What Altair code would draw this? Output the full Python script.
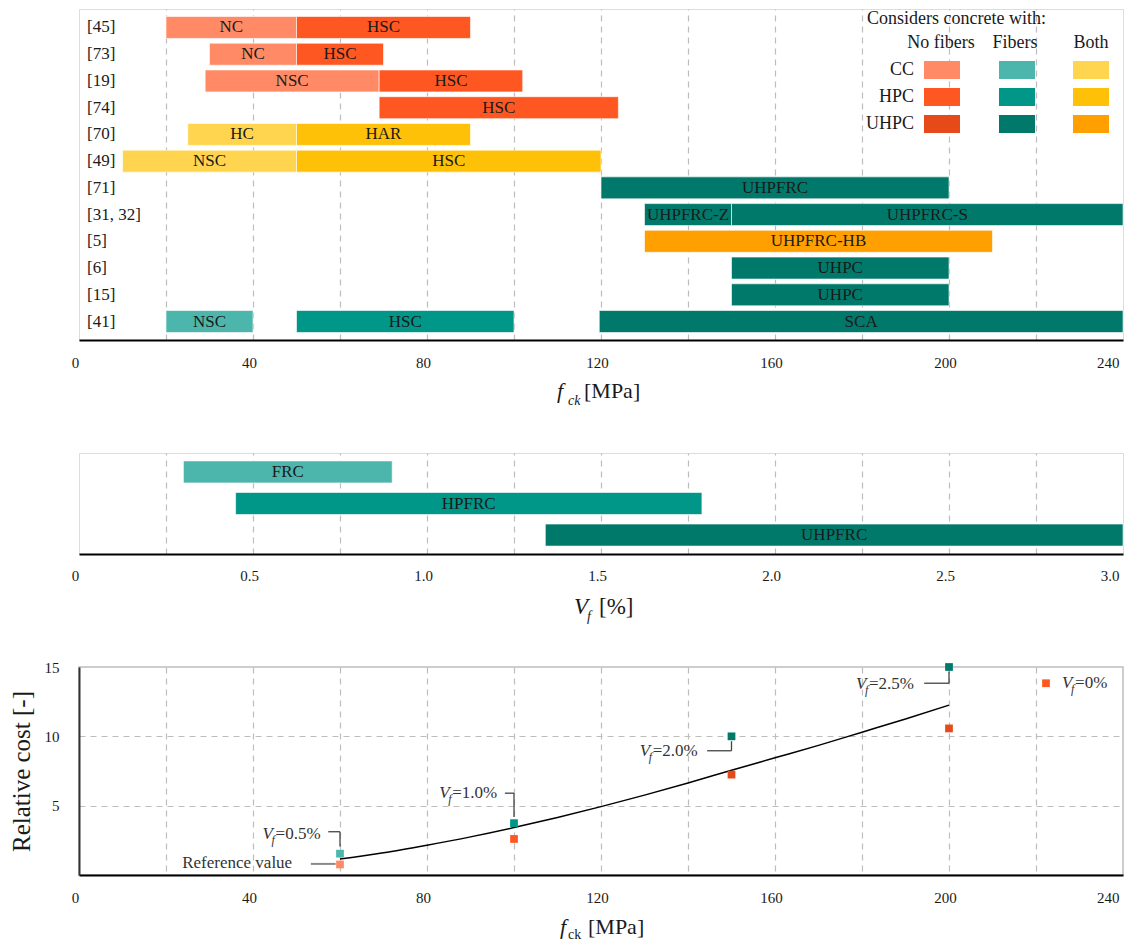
import altair as alt
import pandas as pd

FONT = "Liberation Serif"
TXT = "#1a1a1a"

# ---------------- colours (concrete class x fibre content) ----------------
classes = ["CC-none", "HPC-none", "UHPC-none", "CC-fib", "HPC-fib", "UHPC-fib",
           "CC-both", "HPC-both", "UHPC-both"]
class_colors = ["#FF8A65", "#FF5722", "#E64A19", "#4DB6AC", "#009688", "#00796B",
                "#FFD54F", "#FFC107", "#FFA000"]
color_scale = alt.Scale(domain=classes, range=class_colors)

# ---------------- panel 1 : f_ck ranges per reference ----------------
refs = ["[45]", "[73]", "[19]", "[74]", "[70]", "[49]", "[71]", "[31, 32]",
        "[5]", "[6]", "[15]", "[41]"]
seg_ref = ["[45]", "[45]", "[73]", "[73]", "[19]", "[19]", "[74]", "[70]", "[70]",
           "[49]", "[49]", "[71]", "[31, 32]", "[31, 32]", "[5]", "[6]", "[15]",
           "[41]", "[41]", "[41]"]
seg_label = ["NC", "HSC", "NC", "HSC", "NSC", "HSC", "HSC", "HC", "HAR", "NSC", "HSC",
             "UHPFRC", "UHPFRC-Z", "UHPFRC-S", "UHPFRC-HB", "UHPC", "UHPC",
             "NSC", "HSC", "SCA"]
seg_start = [20, 50, 30, 50, 29, 69, 69, 25, 50, 10, 50, 120, 130, 150, 130, 150, 150,
             20, 50, 119.6]
seg_end = [50, 90, 50, 70, 69, 102, 124, 50, 90, 50, 120, 200, 150, 240, 210, 200, 200,
           40, 100, 240]
seg_class = ["CC-none", "HPC-none", "CC-none", "HPC-none", "CC-none", "HPC-none",
             "HPC-none", "CC-both", "HPC-both", "CC-both", "HPC-both", "UHPC-fib",
             "UHPC-fib", "UHPC-fib", "UHPC-both", "UHPC-fib", "UHPC-fib",
             "CC-fib", "HPC-fib", "UHPC-fib"]

# legend of panel 1
leg_title = "Considers concrete with:"
leg_rows = ["CC", "HPC", "UHPC"]
leg_cols = ["No fibers", "Fibers", "Both"]
leg_suffix = ["none", "fib", "both"]

# ---------------- panel 2 : fibre volume ranges ----------------
vf_label = ["FRC", "HPFRC", "UHPFRC"]
vf_start = [0.3, 0.45, 1.34]
vf_end = [0.9, 1.79, 3.0]
vf_class = ["CC-fib", "HPC-fib", "UHPC-fib"]

# ---------------- panel 3 : relative cost ----------------
curve_fck = [60, 70, 80, 90, 100, 110, 120, 130, 140, 150, 160, 170, 180, 190, 200]
curve_cost = [1.15, 1.6, 2.15, 2.75, 3.42, 4.15, 4.93, 5.76, 6.64, 7.55, 8.45, 9.35,
              10.3, 11.25, 12.25]
pt_fck = [60, 100, 150, 200]
cost_fib = [1.54, 3.74, 10.0, 15.0]
fib_class = ["CC-fib", "HPC-fib", "UHPC-fib", "UHPC-fib"]
cost_nofib = [0.76, 2.6, 7.24, 10.57]
nofib_class = ["CC-none", "HPC-none", "UHPC-none", "UHPC-none"]
vf_texts = ["=0.5%", "=1.0%", "=2.0%", "=2.5%", "=0%"]

# ---------------- layout ----------------
W = 1044
H1, H2, H3 = 331, 101, 208
GRID = dict(grid=True, gridDash=[6, 5], gridColor="#bdbdbd", gridWidth=1.2)


def txt(text, x, y, size=17, italic=False, align="left", baseline="alphabetic",
        color=TXT):
    return alt.Chart(pd.DataFrame({"t": [text]})).mark_text(
        font=FONT, fontSize=size, fontStyle="italic" if italic else "normal",
        align=align, baseline=baseline, color=color
    ).encode(x=alt.value(x), y=alt.value(y), text="t:N")


def x_axis(values, expr, last, offset, pad):
    return alt.Axis(values=values, labelExpr=expr,
                    gridOpacity={"condition": {"test": f"datum.value == 0 || datum.value == {last}",
                                               "value": 0}, "value": 1},
                    labelAlign={"condition": {"test": f"datum.value == {last}", "value": "right"},
                                "value": "center"},
                    ticks=False, domainColor="black", domainWidth=2,
                    labelFont=FONT, labelFontSize=15, labelColor=TXT, labelPadding=pad,
                    labelFlush=False, labelOverlap=False, labelOffset=offset, title=None,
                    **GRID)


# ======== panel 1 ========
top_df = pd.DataFrame(dict(ref=seg_ref, label=seg_label, start=seg_start,
                           end=seg_end, cls=seg_class))
x240 = alt.Scale(domain=[0, 240], nice=False, zero=False)
ax_top = x_axis(list(range(0, 241, 20)), "datum.value % 40 == 0 ? datum.label : ''",
                240, -4, 15)
yref = alt.Y("ref:N", scale=alt.Scale(domain=refs, paddingInner=0.177, paddingOuter=0.28),
             axis=None)

bars1 = alt.Chart(top_df).mark_bar(stroke="white", strokeWidth=1, strokeOpacity=0.6).encode(
    x=alt.X("start:Q", scale=x240, axis=ax_top), x2="end:Q", y=yref,
    color=alt.Color("cls:N", scale=color_scale, legend=None))
blab1 = alt.Chart(top_df).transform_calculate(mid="(datum.start + datum.end) / 2").mark_text(
    font=FONT, fontSize=17, color=TXT).encode(x=alt.X("mid:Q", scale=x240), y=yref,
                                               text="label:N")
rowlab = alt.Chart(pd.DataFrame({"ref": refs})).mark_text(
    font=FONT, fontSize=17, color=TXT, align="left").encode(
    x=alt.value(8), y=yref, text="ref:N")

col_cx = [863, 938, 1012]
row_cy = [61, 88, 115]
sw = []
for i, r in enumerate(leg_rows):
    for j, s in enumerate(leg_suffix):
        sw.append(dict(cls=f"{r}-{s}", x0=col_cx[j] - 18, x1=col_cx[j] + 18,
                       y0=row_cy[i] - 9, y1=row_cy[i] + 9))
sw_df = pd.DataFrame(sw)
leg_sw = alt.Chart(sw_df).mark_rect().encode(
    x=alt.X("x0:Q", scale=None), x2="x1:Q", y=alt.Y("y0:Q", scale=None), y2="y1:Q",
    color=alt.Color("cls:N", scale=color_scale, legend=None))
leg_hdr = alt.Chart(pd.DataFrame({"t": leg_cols, "x": [862, 936, 1012]})).mark_text(
    font=FONT, fontSize=18, color=TXT, baseline="middle").encode(
    x=alt.X("x:Q", scale=None), y=alt.value(34), text="t:N")
leg_row = alt.Chart(pd.DataFrame({"t": leg_rows, "y": row_cy})).mark_text(
    font=FONT, fontSize=18, color=TXT, align="right", baseline="middle").encode(
    x=alt.value(835), y=alt.Y("y:Q", scale=None), text="t:N")
leg_ttl = txt(leg_title, 788, 10, size=18, baseline="middle")

t1 = [txt("f", 478, H1 + 58, size=22, italic=True),
      txt("ck", 489, H1 + 65, size=14, italic=True),
      txt("[MPa]", 505, H1 + 58, size=22)]

top = alt.layer(bars1, blab1, rowlab, leg_sw, leg_hdr, leg_row, leg_ttl, *t1).properties(
    width=W, height=H1)

# ======== panel 2 ========
mid_df = pd.DataFrame(dict(label=vf_label, start=vf_start, end=vf_end, cls=vf_class))
x3 = alt.Scale(domain=[0, 3], nice=False, zero=False)
ax_mid = x_axis([i * 0.25 for i in range(13)],
                "datum.value == 0 ? '0' : (round(datum.value * 4) % 2 == 0 ? format(datum.value, '.1f') : '')",
                3, -4, 14)
yvf = alt.Y("label:N", scale=alt.Scale(domain=vf_label, paddingInner=0.302,
                                       paddingOuter=0.25), axis=None)
bars2 = alt.Chart(mid_df).mark_bar(stroke="white", strokeWidth=1, strokeOpacity=0.6).encode(
    x=alt.X("start:Q", scale=x3, axis=ax_mid), x2="end:Q", y=yvf,
    color=alt.Color("cls:N", scale=color_scale, legend=None))
blab2 = alt.Chart(mid_df).transform_calculate(mid="(datum.start + datum.end) / 2").mark_text(
    font=FONT, fontSize=17, color=TXT).encode(x=alt.X("mid:Q", scale=x3), y=yvf,
                                               text="label:N")
t2 = [txt("V", 495, H2 + 60, size=23, italic=True),
      txt("f", 508, H2 + 67, size=14, italic=True),
      txt("[%]", 520, H2 + 60, size=23)]
mid = alt.layer(bars2, blab2, *t2).properties(width=W, height=H2)

# ======== panel 3 ========
curve_df = pd.DataFrame(dict(fck=curve_fck, cost=curve_cost))
pts_df = pd.DataFrame(dict(fck=pt_fck + pt_fck, cost=cost_fib + cost_nofib,
                           cls=fib_class + nofib_class))
y15 = alt.Scale(domain=[0, 15], nice=False)
ax_bx = x_axis(list(range(0, 241, 20)), "datum.value % 40 == 0 ? datum.label : ''",
               240, -4, 15)
ax_by = alt.Axis(values=[0, 5, 10, 15],
                 labelExpr="datum.value == 0 ? '' : datum.label",
                 gridOpacity={"condition": {"test": "datum.value == 0 || datum.value == 15",
                                            "value": 0}, "value": 1},
                 ticks=False, domainColor="#333333", domainWidth=2,
                 labelFont=FONT, labelFontSize=15, labelColor=TXT, labelPadding=20,
                 labelOverlap=False, labelFlush=False,
                 title="Relative cost [-]", titleFont=FONT, titleFontSize=25,
                 titleFontWeight="normal", titleColor=TXT, titlePadding=10, **GRID)

line = alt.Chart(curve_df).mark_line(color="black", strokeWidth=1.5,
                                     interpolate="monotone").encode(
    x=alt.X("fck:Q", scale=x240, axis=ax_bx),
    y=alt.Y("cost:Q", scale=y15, axis=ax_by))

# annotation leader lines (x, y -> x2, y2), in data units
lead_df = pd.DataFrame(dict(
    x=[57.3, 60, 97.9, 100, 144.4, 150, 194.3, 200],
    x2=[60, 60, 100, 100, 150, 150, 200, 200],
    y=[3.12, 3.12, 5.9, 5.9, 8.96, 8.96, 13.83, 13.83],
    y2=[3.12, 2.06, 5.9, 4.18, 8.96, 9.65, 13.83, 14.68]))
leads = alt.Chart(lead_df).mark_rule(color="#444444", strokeWidth=1.3).encode(
    x=alt.X("x:Q", scale=x240), x2="x2:Q", y=alt.Y("y:Q", scale=y15), y2="y2:Q")
ref_lead = alt.Chart(pd.DataFrame(dict(x=[53.3], x2=[59.0], y=[0.8]))).mark_rule(
    color="#8a8a8a", strokeWidth=2).encode(
    x=alt.X("x:Q", scale=x240), x2="x2:Q", y=alt.Y("y:Q", scale=y15))

pts = alt.Chart(pts_df).mark_square(size=60, opacity=1).encode(
    x=alt.X("fck:Q", scale=x240), y=alt.Y("cost:Q", scale=y15),
    color=alt.Color("cls:N", scale=color_scale, legend=None))
leg_pt = alt.Chart(pd.DataFrame(dict(fck=[222.3], cost=[13.83], cls=["HPC-none"]))).mark_square(
    size=60, opacity=1).encode(
    x=alt.X("fck:Q", scale=x240), y=alt.Y("cost:Q", scale=y15),
    color=alt.Color("cls:N", scale=color_scale, legend=None))

ann_df = pd.DataFrame(dict(x=[42.2, 82.8, 128.9, 178.6, 226.0],
                           y=[2.98, 5.9, 8.91, 13.8, 13.83], rest=vf_texts))
ann_V = alt.Chart(ann_df).mark_text(text="V", font=FONT, fontSize=17, fontStyle="italic",
                                    align="left", baseline="middle", color="#333333").encode(
    x=alt.X("x:Q", scale=x240), y=alt.Y("y:Q", scale=y15))
ann_f = alt.Chart(ann_df).mark_text(text="f", font=FONT, fontSize=12, fontStyle="italic",
                                    align="left", baseline="middle", dx=9, dy=6,
                                    color="#333333").encode(
    x=alt.X("x:Q", scale=x240), y=alt.Y("y:Q", scale=y15))
ann_r = alt.Chart(ann_df).mark_text(font=FONT, fontSize=17, align="left", baseline="middle",
                                    dx=13, color="#333333").encode(
    x=alt.X("x:Q", scale=x240), y=alt.Y("y:Q", scale=y15), text="rest:N")
ref_txt = alt.Chart(pd.DataFrame(dict(x=[49.0], y=[0.87], t=["Reference value"]))).mark_text(
    font=FONT, fontSize=17, align="right", baseline="middle", color="#333333").encode(
    x=alt.X("x:Q", scale=x240), y=alt.Y("y:Q", scale=y15), text="t:N")

t3 = [txt("f", 481, H3 + 59, size=22, italic=True),
      txt("ck", 489, H3 + 64, size=14),
      txt("[MPa]", 509, H3 + 59, size=22)]

bot = alt.layer(line, leads, ref_lead, pts, leg_pt, ann_V, ann_f, ann_r, ref_txt, *t3).properties(
    width=W, height=H3, view=alt.ViewBackground(stroke="#bdbdbd", strokeWidth=1.5))

chart = alt.vconcat(top, mid, bot, spacing=113, bounds="flush").properties(
    padding={"left": 0, "top": 0, "right": 0, "bottom": 0}
).configure_view(stroke=None).configure(font=FONT, background="white")

chart.save("out.html", embed_options={"renderer": "svg", "actions": False})
